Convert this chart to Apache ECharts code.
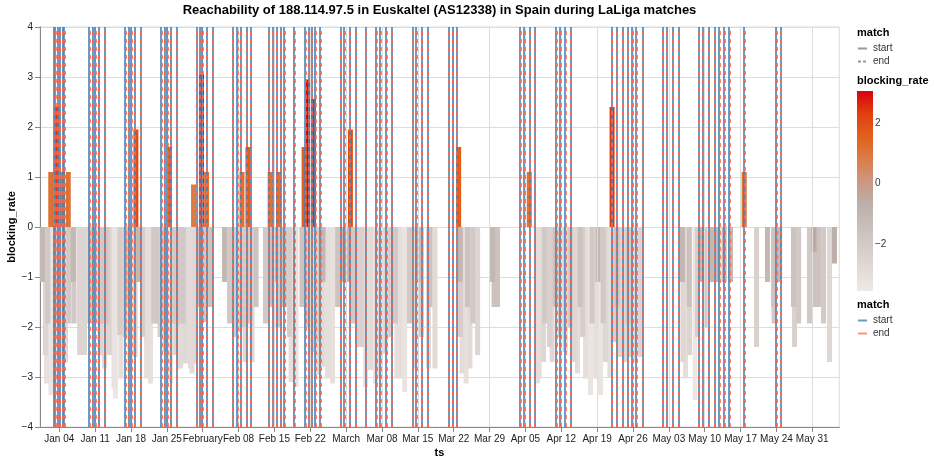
<!DOCTYPE html>
<html>
<head>
<meta charset="utf-8">
<script src="https://cdn.jsdelivr.net/npm/echarts@6/dist/echarts.min.js"></script>
<style>html,body{margin:0;padding:0;background:#fff}#chart{width:934px;height:464px}</style>
</head>
<body>
<div id="chart"></div>
<script>
// ---------- DATA ----------
const chartTitle = 'Reachability of 188.114.97.5 in Euskaltel (AS12338) in Spain during LaLiga matches';

// blocking_rate bars: [ 'MM-DD HH' (UTC), value ]
const janBars = [
  ['12-31 17',-1.1],['01-01 07',-2.56],['01-01 12',-3.13],['01-01 18',-1.93],['01-02 08',1.1],['01-02 09',-3.36],
  ['01-03 04',-3.2],['01-03 12',-1.93],['01-03 16',2.4],['01-04 03',-2.9],['01-04 15',1.1],['01-04 17',-2.56],
  ['01-05 05',-2.7],['01-05 18',1.1],['01-05 21',-1.93],['01-06 18',-1.1],['01-06 21',-1.93],['01-07 23',-2.56],
  ['01-08 22',-2.56],['01-09 23',-1.93],['01-10 23',-1.93],['01-11 23',-2.56],['01-12 07',-1.93],['01-12 20',-2.83],
  ['01-13 07',-1.93],['01-13 19',-2.56],['01-14 16',-3.23],['01-14 23',-3.43],['01-15 20',-2.16],['01-16 01',-3.03],
  ['01-16 20',-2.2],['01-17 07',-1.6],['01-17 19',-2.9],['01-18 19',-2.6],['01-18 23',1.95],['01-19 09',-1.1],
  ['01-20 06',-2.2],['01-21 01',-3.03],['01-21 19',-3.13],['01-22 10',-1.93],['01-22 23',-1.93],['01-23 16',-2.2],
  ['01-24 05',-1.93],['01-24 15',-2.5],['01-25 12',1.6],['01-25 17',-3.13],['01-26 05',-1.93],['01-26 17',-2.56],
  ['01-27 05',-1.93],['01-27 16',-2.83],['01-28 05',-1.93],['01-28 15',-2.73],['01-29 15',-2.83],['01-29 22',-2.93],
  ['01-30 05',0.85],['01-30 12',-2.73],['01-31 11',-1.6],['01-31 18',3.05]
];
const febBars = [
  ['02-01 11',-1.9],['02-01 18',1.1],['02-02 10',-1.6],['02-05 06',-1.1],['02-06 06',-1.93],['02-07 05',-2.2],
  ['02-08 04',-2.1],['02-08 16',1.1],['02-09 04',-2.0],['02-09 07',-2.7],['02-09 20',1.6],['02-10 06',-1.93],
  ['02-10 15',-2.7],['02-11 10',-1.6],['02-13 06',-1.93],['02-14 04',1.1],['02-14 06',-1.6],['02-15 02',-1.1],
  ['02-15 17',-2.0],['02-15 19',1.1],['02-16 23',-1.6],['02-17 23',-2.2],['02-18 06',-3.1],['02-19 05',-3.2],
  ['02-20 09',-1.6],['02-20 19',1.6],['02-21 09',-2.0],['02-21 14',2.95],['02-22 08',-2.5],['02-22 15',2.56],
  ['02-23 08',-2.3],['02-23 12',-2.96],['02-24 09',-2.8],['02-24 12',-1.1],['02-25 09',-3.03],['02-26 08',-3.13],
  ['02-27 08',-1.6],['02-28 07',-1.1]
];
const marBars = [
  ['03-01 06',-1.1],['03-01 20',1.95],['03-02 06',-1.93],['03-03 05',-2.4],['03-04 02',-2.4],['03-04 19',-3.2],
  ['03-05 18',-2.86],['03-06 18',-3.13],['03-07 17',-3.0],['03-08 17',-2.53],['03-09 16',-2.2],['03-10 15',-1.93],
  ['03-10 22',-3.03],['03-11 12',-3.03],['03-12 10',-3.3],['03-13 09',-1.93],['03-14 11',-2.83],['03-15 01',-1.1],
  ['03-15 17',-2.2],['03-17 02',-2.83],['03-17 09',-1.6],['03-18 08',-2.83],['03-22 23',1.6],['03-23 06',-1.1],
  ['03-23 08',-2.2],['03-23 15',-2.93],['03-24 10',-3.13],['03-24 17',-1.6],['03-25 04',-2.83],['03-25 18',-1.93],
  ['03-26 16',-2.56],['03-29 14',-1.1],['03-29 21',-1.6],['03-30 13',-1.6]
];
const aprBars = [
  ['04-05 18',1.1],['04-07 09',-3.13],['04-07 16',-3.03],['04-08 13',-2.7],['04-08 18',-1.93],['04-09 17',-2.4],
  ['04-10 05',-2.7],['04-10 19',-1.6],['04-11 18',-2.2],['04-12 18',-2.5],['04-13 17',-2.0],['04-14 14',-2.7],
  ['04-15 04',-2.93],['04-15 16',-1.6],['04-16 04',-2.2],['04-16 18',-3.03],['04-17 17',-3.36],['04-18 00',-1.93],
  ['04-18 17',-3.03],['04-19 04',-1.1],['04-19 16',-3.36],['04-20 04',-1.93],['04-20 15',-2.7],['04-21 12',-3.0],
  ['04-21 22',2.4],['04-22 07',-2.3],['04-22 21',-1.6],['04-23 11',-2.6],['04-24 11',-2.7],['04-25 01',-1.93],
  ['04-25 10',-2.6],['04-26 10',-2.7],['04-27 09',-2.6]
];
const mayBars = [
  ['05-05 16',-1.1],['05-05 18',-2.7],['05-06 06',-3.03],['05-06 23',-1.6],['05-07 01',-2.56],['05-08 03',-3.46],
  ['05-08 14',-2.2],['05-09 12',-1.1],['05-10 02',-2.0],['05-11 10',-1.1],['05-12 14',-1.1],['05-13 19',-1.1],
  ['05-15 01',-1.1],['05-17 17',1.1],['05-20 03',-2.4],['05-22 06',-1.1],['05-23 11',-1.6],['05-23 13',-1.93],
  ['05-24 15',-1.1],['05-27 08',-1.6],['05-27 13',-2.4],['05-28 08',-1.93],['05-30 11',-1.93],['05-31 08',-0.5],
  ['05-31 13',-1.6]
];
const junBars = [
  ['06-01 05',-1.6],['06-02 05',-1.93],['06-03 09',-2.7],['06-04 08',-0.73]
];

// match start / end times (UTC, 'MM-DD HH')
const matchStarts = [
  '01-02 20','01-03 05','01-03 15','01-04 00','01-04 16','01-04 23',
  '01-09 20','01-10 13','01-10 23','01-11 16','01-12 20',
  '01-16 20','01-17 12','01-18 00','01-18 16','01-19 20',
  '01-23 21','01-24 13','01-25 01','01-25 18','01-26 21',
  '01-30 20','01-31 09','01-31 21','02-01 17','02-02 21',
  '02-06 19','02-07 16','02-08 09','02-09 13','02-10 08',
  '02-13 20','02-14 15','02-15 10','02-16 05','02-16 21',
  '02-18 20','02-20 23','02-21 16','02-22 06','02-22 22','02-23 22',
  '02-27 22','02-28 15','03-01 16','03-02 21','03-04 19',
  '03-06 20','03-07 15','03-08 18','03-09 22',
  '03-13 22','03-14 15','03-15 18','03-16 22',
  '03-20 23','03-21 18','03-22 14',
  '04-03 23','04-04 18','04-05 18','04-06 18',
  '04-10 23','04-11 18','04-12 18','04-13 20',
  '04-21 20','04-22 19','04-24 00','04-24 23','04-25 19','04-26 14','04-27 20',
  '05-01 19','05-02 14','05-03 17','05-04 21',
  '05-08 20','05-09 14','05-10 17','05-11 21','05-12 20','05-13 19','05-14 19',
  '05-17 16','05-23 22','05-24 20'
];
const matchEnds = [
  '01-02 22','01-03 07','01-03 17','01-04 02','01-04 18','01-05 01',
  '01-09 22','01-10 15','01-11 01','01-11 18','01-12 22',
  '01-16 22','01-17 14','01-18 02','01-18 18','01-19 22',
  '01-23 23','01-24 15','01-25 03','01-25 20','01-26 23',
  '01-30 22','01-31 11','01-31 23','02-01 19','02-02 23',
  '02-06 21','02-07 18','02-08 11','02-09 15','02-10 10',
  '02-13 22','02-14 17','02-15 12','02-16 07','02-16 23',
  '02-18 22','02-21 01','02-21 18','02-22 08','02-23 00','02-24 00',
  '02-28 00','02-28 17','03-01 18','03-02 23','03-04 21',
  '03-06 22','03-07 17','03-08 20','03-10 00',
  '03-14 00','03-14 17','03-15 20','03-17 00',
  '03-21 01','03-21 20','03-22 16',
  '04-04 01','04-04 20','04-05 20','04-06 20',
  '04-11 01','04-11 20','04-12 20','04-13 22',
  '04-21 22','04-22 21','04-24 02','04-25 01','04-25 21','04-26 16','04-27 22',
  '05-01 21','05-02 16','05-03 19','05-04 23',
  '05-08 22','05-09 16','05-10 19','05-11 23','05-12 22','05-13 21','05-14 21',
  '05-17 18','05-24 00','05-24 22'
];

// x-axis ticks
const tickDates = ['01-04','01-11','01-18','01-25','02-01','02-08','02-15','02-22','03-01','03-08','03-15',
  '03-22','03-29','04-05','04-12','04-19','04-26','05-03','05-10','05-17','05-24','05-31'];
const tickLabels = ['Jan 04','Jan 11','Jan 18','Jan 25','February','Feb 08','Feb 15','Feb 22','March','Mar 08','Mar 15',
  'Mar 22','Mar 29','Apr 05','Apr 12','Apr 19','Apr 26','May 03','May 10','May 17','May 24','May 31'];
const colorLegendTicks = [2,0,-2];

// color scheme (lightgreyred) and domain
const blockingScheme = ['#efe9e6','#e1dad7','#d5cbc8','#c8bdb9','#bbaea9','#cd967d','#dc7b43','#e15f19','#df4011','#dc000b'];
const colorMin = -3.56, colorMax = 3.06;

// ---------- BUILD ----------
const F = '"Liberation Sans", Arial, Helvetica, sans-serif';
function toTs(s){
  const [md, h] = s.split(' ');
  const [m, d] = md.split('-').map(Number);
  const y = m === 12 ? 2025 : 2026;
  return Date.UTC(y, m - 1, d, h ? Number(h) : 0);
}
const xMin = Date.UTC(2025, 11, 31, 5, 35);
const xMax = Date.UTC(2026, 5, 5, 6, 40);

const bars = [].concat(janBars, febBars, marBars, aprBars, mayBars, junBars)
  .map(([t, v]) => [toTs(t), v])
  .sort((a, b) => Math.abs(b[1]) - Math.abs(a[1]));

const tickValues = tickDates.map(d => toTs(d + ' 00'));
const labelMap = {};
tickValues.forEach((v, i) => { labelMap[v] = tickLabels[i]; });

const startLines = matchStarts.map(t => ({xAxis: toTs(t), lineStyle: {color: '#4682b4', width: 2, type: 'solid', opacity: 0.8}}));
const endLines = matchEnds.map(t => ({xAxis: toTs(t), lineStyle: {color: '#ff6347', width: 2, type: [4, 4], opacity: 0.8}}));
const gridLines = tickValues.map(v => ({xAxis: v}));

const gradStops = blockingScheme.slice().reverse().map((c, i, arr) => ({offset: i / (arr.length - 1), color: c}));

const LG = {x: 857, y: 91, w: 16, h: 200};
function legendY(v){ return LG.y + (colorMax - v) / (colorMax - colorMin) * LG.h; }
function txt(x, y, s, st){
  return {type: 'text', x: x, y: y, silent: true, z: 100,
    style: Object.assign({text: s, fill: '#000', font: '10px ' + F, textAlign: 'left', textVerticalAlign: 'middle'}, st || {})};
}
function seg(x1, y, x2, stroke, dash, op){
  const st = {stroke: stroke, lineWidth: 2, opacity: op == null ? 1 : op};
  if (dash) st.lineDash = dash;
  return {type: 'line', silent: true, z: 100, shape: {x1: x1, y1: y, x2: x2, y2: y}, style: st};
}
const minus = v => (v < 0 ? '\u2212' + Math.abs(v) : String(v));

const graphics = [
  txt(439.5, 10.5, chartTitle, {font: 'bold 13px ' + F, textAlign: 'center'}),
  txt(439.5, 453, 'ts', {font: 'bold 11px ' + F, textAlign: 'center'}),
  {type: 'text', x: 12, y: 227, rotation: Math.PI / 2, silent: true, z: 100,
    style: {text: 'blocking_rate', font: 'bold 11px ' + F, fill: '#000', textAlign: 'center', textVerticalAlign: 'middle'}},
  txt(857, 32.5, 'match', {font: 'bold 11px ' + F}),
  seg(858, 48.5, 867, '#999'),
  txt(873, 48.5, 'start', {fill: '#333'}),
  seg(858, 61.5, 867, '#999', [3, 2]),
  txt(873, 61.5, 'end', {fill: '#333'}),
  txt(857, 81, 'blocking_rate', {font: 'bold 11px ' + F}),
  {type: 'rect', silent: true, z: 100, shape: {x: LG.x, y: LG.y, width: LG.w, height: LG.h},
    style: {fill: new echarts.graphic.LinearGradient(0, 0, 0, 1, gradStops)}},
  txt(857, 304.5, 'match', {font: 'bold 11px ' + F}),
  seg(858, 320.5, 867, '#4682b4', null, 0.8),
  txt(873, 320.5, 'start', {fill: '#333'}),
  seg(858, 333.5, 867, '#ff6347', null, 0.7),
  txt(873, 333.5, 'end', {fill: '#333'})
];
colorLegendTicks.forEach(v => graphics.push(txt(875, legendY(v), minus(v), {fill: '#333'})));

const chart = echarts.init(document.getElementById('chart'), null, {renderer: 'canvas', width: 934, height: 464});
chart.setOption({
  animation: false,
  backgroundColor: '#fff',
  grid: {left: 40, top: 27, width: 799.3, height: 400, show: true, borderColor: '#ddd', borderWidth: 1, containLabel: false},
  xAxis: {
    type: 'value', min: xMin, max: xMax, scale: true,
    axisLine: {show: true, onZero: false, lineStyle: {color: '#888', width: 1}},
    axisTick: {show: true, length: 5, lineStyle: {color: '#888'}, customValues: tickValues},
    axisLabel: {customValues: tickValues, formatter: v => labelMap[v] || '', fontSize: 10, color: '#222', fontFamily: F, margin: 7},
    splitLine: {show: false}
  },
  yAxis: {
    type: 'value', min: -4, max: 4, interval: 1,
    axisLine: {show: true, onZero: false, lineStyle: {color: '#888', width: 1}},
    axisTick: {show: true, length: 5, lineStyle: {color: '#888'}},
    axisLabel: {formatter: minus, fontSize: 10, color: '#222', fontFamily: F, margin: 7},
    splitLine: {show: true, lineStyle: {color: '#ddd', width: 1}}
  },
  visualMap: {
    type: 'continuous', show: false, min: colorMin, max: colorMax, dimension: 1, seriesIndex: 0,
    inRange: {color: blockingScheme}
  },
  series: [
    {type: 'bar', name: 'blocking_rate', data: bars, barWidth: 5, z: 3, silent: true, itemStyle: {opacity: 1}},
    {type: 'line', name: 'grid', data: [], z: 1, silent: true,
      markLine: {symbol: 'none', silent: true, animation: false, label: {show: false},
        lineStyle: {color: '#ddd', width: 1, type: 'solid'}, data: gridLines}},
    {type: 'line', name: 'match', data: [], z: 5, silent: true,
      markLine: {symbol: 'none', silent: true, animation: false, label: {show: false},
        data: startLines.concat(endLines)}}
  ],
  graphic: graphics
});
</script>
</body>
</html>
